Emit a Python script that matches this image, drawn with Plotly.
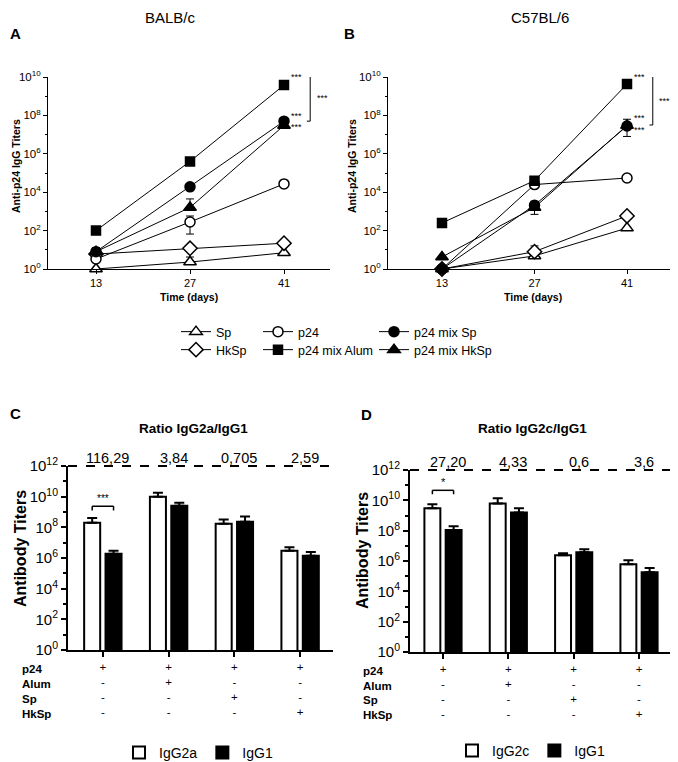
import plotly.graph_objects as go
import numpy as np

# page body has an 8px margin, so the figure is placed at (8, 8)
OFF = 8
FW, FH = 670, 754
def px(x): return (x - OFF) / FW
def py(y): return 1 - (y - OFF) / FH

FONT = "Liberation Sans, Arial, sans-serif"

# ---------------- data: line panels ----------------
days = [13, 27, 41]

# BALB/c (panel A)
A_Sp = [1.0, 2.3, 7.0]
A_HkSp = [6.0, 12.0, 22.0]
A_p24 = [3.3, 280, 2.7e4]
A_mixAlum = [100, 4.0e5, 3.8e9]
A_mixSp = [8.0, 1.9e4, 5.0e7]
A_mixHkSp = [8.0, 1.6e3, 3.0e7]
A_Sp_up = [0, 1.9, 0]
A_p24_up = [0, 295, 0]
A_p24_dn = [0, 214, 0]
A_mixSp_up = [4.6, 0, 0]
A_mixHkSp_up = [4.6, 2870, 0]

# C57BL/6 (panel B)
B_Sp = [1.0, 4.8, 135]
B_HkSp = [1.0, 8.0, 580]
B_p24 = [1.0, 2.5e4, 5.5e4]
B_mixAlum = [250, 4.0e4, 4.3e9]
B_mixSp = [1.0, 2.1e3, 2.8e7]
B_mixHkSp = [4.2, 1.6e3, 3.0e7]
B_HkSp_up = [0, 8, 0]
B_mixSp_up = [0, 1300, 3.5e7]
B_mixSp_dn = [0, 1400, 2.0e7]

# ---------------- data: bar panels ----------------
groups = ["p24", "p24 + Alum", "p24 + Sp", "p24 + HkSp"]
comp_rows = ["p24", "Alum", "Sp", "HkSp"]
comp_table = [["+", "+", "+", "+"],
              ["-", "+", "-", "-"],
              ["-", "-", "+", "-"],
              ["-", "-", "-", "+"]]

C_IgG2a = [2.0e8, 1.0e10, 1.7e8, 3.0e6]
C_IgG2a_err = [2.0e8, 8.0e9, 1.5e8, 2.0e6]
C_IgG1 = [1.9e6, 2.6e9, 2.3e8, 1.4e6]
C_IgG1_err = [1.05e6, 1.4e9, 2.7e8, 1.1e6]
C_ratios = ["116,29", "3,84", "0,705", "2,59"]

D_IgG2c = [3.0e9, 6.3e9, 2.4e6, 6.0e5]
D_IgG2c_err = [2.5e9, 7.2e9, 0.8e6, 5.0e5]
D_IgG1 = [1.1e8, 1.6e9, 3.8e6, 1.8e5]
D_IgG1_err = [8.5e7, 1.35e9, 2.2e6, 1.6e5]
D_ratios = ["27,20", "4,33", "0,6", "3,6"]

fig = go.Figure()

styles = {
    "Sp": dict(symbol="triangle-up", color="white", size=11),
    "HkSp": dict(symbol="diamond", color="white", size=11),
    "p24": dict(symbol="circle", color="white", size=10),
    "p24 mix Alum": dict(symbol="square", color="black", size=9),
    "p24 mix Sp": dict(symbol="circle", color="black", size=10),
    "p24 mix HkSp": dict(symbol="triangle-up", color="black", size=11),
}
# one legend box per entry, positioned like the reference grid (marker x, row y)
legend_pos = {"Sp": ("legend", 176, 317), "HkSp": ("legend2", 176, 335),
              "p24": ("legend3", 258, 317), "p24 mix Alum": ("legend4", 258, 335),
              "p24 mix Sp": ("legend5", 374, 317), "p24 mix HkSp": ("legend6", 374, 335)}

def add_line(name, y, up, dn, xa, ya, show):
    st = styles[name]
    err = None
    if up is not None or dn is not None:
        err = dict(type="data", symmetric=False,
                   array=up if up is not None else [0, 0, 0],
                   arrayminus=dn if dn is not None else [0, 0, 0],
                   color="black", thickness=1, width=4)
    fig.add_trace(go.Scatter(
        x=days, y=y, name=name, mode="lines+markers",
        line=dict(color="black", width=1),
        marker=dict(symbol=st["symbol"], size=st["size"], color=st["color"],
                    line=dict(color="black", width=1.5)),
        error_y=err, xaxis=xa, yaxis=ya, cliponaxis=False,
        showlegend=show, legend=legend_pos[name][0]))

order_A = [("Sp", A_Sp, A_Sp_up, None), ("HkSp", A_HkSp, None, None),
           ("p24", A_p24, A_p24_up, A_p24_dn), ("p24 mix HkSp", A_mixHkSp, A_mixHkSp_up, None),
           ("p24 mix Sp", A_mixSp, A_mixSp_up, None), ("p24 mix Alum", A_mixAlum, None, None)]
for n, y, u, d in order_A:
    add_line(n, y, u, d, "x", "y", True)
order_B = [("Sp", B_Sp, None, None), ("HkSp", B_HkSp, B_HkSp_up, None),
           ("p24", B_p24, None, None), ("p24 mix HkSp", B_mixHkSp, None, None),
           ("p24 mix Sp", B_mixSp, B_mixSp_up, B_mixSp_dn), ("p24 mix Alum", B_mixAlum, None, None)]
for n, y, u, d in order_B:
    add_line(n, y, u, d, "x2", "y2", False)

def add_bar(name, y, err, fill, xa, ya, leg):
    fig.add_trace(go.Bar(
        x=groups, y=y, name=name,
        marker=dict(color=fill, line=dict(color="black", width=2)),
        error_y=dict(type="data", symmetric=False, array=err, arrayminus=[0] * len(err),
                     color="black", thickness=2, width=5),
        xaxis=xa, yaxis=ya, legend=leg))

add_bar("IgG2a", C_IgG2a, C_IgG2a_err, "white", "x3", "y3", "legend7")
add_bar("IgG1", C_IgG1, C_IgG1_err, "black", "x3", "y3", "legend7")
add_bar("IgG2c", D_IgG2c, D_IgG2c_err, "white", "x4", "y4", "legend8")
add_bar("IgG1", D_IgG1, D_IgG1_err, "black", "x4", "y4", "legend8")

# ---------------- axes ----------------
def sup(e): return f"10<sup>{e}</sup>"

line_y_vals = [10 ** e for e in range(0, 11, 2)]
line_y_text = [sup(e) for e in range(0, 11, 2)]
line_minor = [10 ** e for e in range(1, 10, 2)]
bar_y_vals = [10 ** e for e in range(0, 13, 2)]
bar_y_text = [sup(e) for e in range(0, 13, 2)]
bar_minor = [10 ** e for e in range(1, 12, 2)]

def line_xaxis(dom, rng, anchor):
    return dict(domain=dom, range=rng, anchor=anchor, tickmode="array", tickvals=days,
                ticks="outside", ticklen=4, tickcolor="black", showline=True,
                linecolor="black", linewidth=1, showgrid=False, zeroline=False,
                tickfont=dict(size=11, color="black"))

def line_yaxis(dom, anchor):
    return dict(domain=dom, type="log", range=[0, 10], anchor=anchor, tickmode="array",
                tickvals=line_y_vals, ticktext=line_y_text, ticks="outside", ticklen=4,
                tickcolor="black", showline=True, linecolor="black", linewidth=1,
                showgrid=False, zeroline=False, tickfont=dict(size=11.5, color="black"),
                minor=dict(tickmode="array", tickvals=line_minor, ticks="outside",
                           ticklen=2, tickcolor="black", showgrid=False))

ticktext_bars = ["<br>".join(comp_table[r][i] for r in range(len(comp_rows)))
                 for i in range(len(groups))]

def bar_xaxis(dom, rng, anchor):
    return dict(domain=dom, range=rng, anchor=anchor, type="category", tickmode="array",
                tickvals=groups, ticktext=ticktext_bars, ticks="outside", ticklen=5,
                tickwidth=1.5, tickcolor="black", showline=True, linecolor="black",
                linewidth=2, showgrid=False, zeroline=False,
                tickfont=dict(size=11.5, color="black"))

def bar_yaxis(dom, anchor):
    return dict(domain=dom, type="log", range=[0, 12], anchor=anchor, tickmode="array",
                tickvals=bar_y_vals, ticktext=bar_y_text, ticks="outside", ticklen=5,
                tickwidth=1.5, tickcolor="black", showline=True, linecolor="black",
                linewidth=2, showgrid=False, zeroline=False,
                tickfont=dict(size=15, color="black"),
                minor=dict(tickmode="array", tickvals=bar_minor, ticks="outside",
                           ticklen=3, tickwidth=1.5, tickcolor="black", showgrid=False))

bargap = 0.35
layout = dict(
    width=FW, height=FH, margin=dict(l=0, r=0, t=0, b=0, autoexpand=False),
    paper_bgcolor="white", plot_bgcolor="white",
    font=dict(family=FONT, color="black"),
    barmode="group", bargap=bargap, bargroupgap=0.25,
    xaxis=line_xaxis([px(48), px(330)], [5.85, 47.85], "y"),
    yaxis=line_yaxis([py(269), py(77)], "x"),
    xaxis2=line_xaxis([px(388), px(673)], [4.83, 47.96], "y2"),
    yaxis2=line_yaxis([py(269), py(77)], "x2"),
    xaxis3=bar_xaxis([px(68), px(333)], [-0.53, 3.5], "y3"),
    yaxis3=bar_yaxis([py(650), py(466)], "x3"),
    xaxis4=bar_xaxis([px(410), px(672)], [-0.505, 3.505], "y4"),
    yaxis4=bar_yaxis([py(652), py(470)], "x4"),
)
leg_common = dict(bgcolor="rgba(0,0,0,0)", font=dict(size=12.5, color="black"),
                  tracegroupgap=0, itemclick=False, itemdoubleclick=False)
for name, (lid, lx, ly) in legend_pos.items():
    layout[lid] = dict(x=px(lx), y=py(ly), xanchor="left", yanchor="top", **leg_common)
leg_bar = dict(leg_common)
leg_bar["font"] = dict(size=14, color="black")
layout["legend7"] = dict(x=px(119), y=py(753), xanchor="left", yanchor="middle",
                         orientation="h", **leg_bar)
layout["legend8"] = dict(x=px(452), y=py(751), xanchor="left", yanchor="middle",
                         orientation="h", **leg_bar)
fig.update_layout(**layout)

# ---------------- annotations ----------------
ann = []
def txt(x, y, s, size, bold=False, angle=0, xanchor="center", yanchor="middle", **kw):
    d = dict(x=x, y=y, text=f"<b>{s}</b>" if bold else s, showarrow=False,
             font=dict(size=size, family=FONT, color="black"), textangle=angle,
             xanchor=xanchor, yanchor=yanchor)
    d.update(kw)
    if "xref" not in d:
        d["xref"] = "paper"
    if "yref" not in d:
        d["yref"] = "paper"
    ann.append(d)

txt(px(170), py(17), "BALB/c", 15)
txt(px(540), py(17), "C57BL/6", 15)
txt(px(15), py(34), "A", 15, bold=True)
txt(px(349), py(34), "B", 15, bold=True)
txt(px(15), py(413), "C", 15, bold=True)
txt(px(366), py(414), "D", 15, bold=True)

txt(px(16), py(166), "Anti-p24 IgG Titers", 10.5, bold=True, angle=-90)
txt(px(352), py(166), "Anti-p24 IgG Titers", 10.5, bold=True, angle=-90)
txt(px(189), py(297), "Time (days)", 10.5, bold=True)
txt(px(533), py(297), "Time (days)", 10.5, bold=True)

txt(px(20), py(549), "Antibody Titers", 16, bold=True, angle=-90)
txt(px(362), py(551), "Antibody Titers", 16, bold=True, angle=-90)
txt(px(193), py(428), "Ratio IgG2a/IgG1", 13.5, bold=True)
txt(px(532), py(428), "Ratio IgG2c/IgG1", 13.5, bold=True)

for g, r in zip(groups, C_ratios):
    txt(g, py(458), r, 14.5, xref="x3", xshift=5)
for g, r in zip(groups, D_ratios):
    txt(g, py(462), r, 14.5, xref="x4", xshift=5)

row_y_C = [669, 684, 699, 714]
row_y_D = [671, 686, 700, 715]
for name, yc, yd in zip(comp_rows, row_y_C, row_y_D):
    txt(px(20), py(yc), name, 11.5, bold=True, xanchor="left")
    txt(px(361), py(yd), name, 11.5, bold=True, xanchor="left")

def star(x, y, xr, yr, s="***", size=9, **kw):
    d = dict(x=x, y=y, xref=xr, yref=yr, text=s, showarrow=False,
             xanchor="left", yanchor="middle",
             font=dict(size=size, family=FONT, color="black"))
    d.update(kw)
    ann.append(d)

# significance marks next to day-41 points (log10 positions on log axes;
# anchors kept inside the axis range, fine offsets via yshift)
star(41, np.log10(A_mixAlum[2]), "x", "y", xshift=5, yshift=8)
star(41, np.log10(A_mixSp[2]) + 0.27, "x", "y", xshift=5)
star(41, np.log10(A_mixHkSp[2]) - 0.1, "x", "y", xshift=5)
star(45.6, 8.9, "x", "y")
star(41, np.log10(B_mixAlum[2]), "x2", "y2", xshift=5, yshift=7)
star(41, np.log10(B_mixSp[2]) + 0.4, "x2", "y2", xshift=5)
star(41, np.log10(B_mixHkSp[2]) - 0.25, "x2", "y2", xshift=5)
star(45.6, 8.75, "x2", "y2")

# significance for bars
off = (1 - bargap) / 4
star(0, 9.4, "x3", "y3", size=10, xanchor="center", yanchor="bottom")
star(0, 10.68, "x4", "y4", s="*", size=11, xanchor="center", yanchor="bottom")
fig.update_layout(annotations=ann)

# ---------------- shapes (log axes take data values) ----------------
shapes = []
def seg(xr, yr, x0, y0, x1, y1, w=1, dash=None):
    ln = dict(color="black", width=w)
    if dash:
        ln["dash"] = dash
    shapes.append(dict(type="line", xref=xr, yref=yr, x0=x0, y0=y0, x1=x1, y1=y1, line=ln))

def bracket_v(xr, yr, x, xl, top, bot):
    seg(xr, yr, x, 10 ** top, x, 10 ** bot)
    seg(xr, yr, xl, 10 ** top, x, 10 ** top)
    seg(xr, yr, xl, 10 ** bot, x, 10 ** bot)

def bracket_h(xr, yr, x0, x1, top, bot):
    seg(xr, yr, x0, 10 ** top, x1, 10 ** top, w=1.5)
    seg(xr, yr, x0, 10 ** top, x0, 10 ** bot, w=1.5)
    seg(xr, yr, x1, 10 ** top, x1, 10 ** bot, w=1.5)

bracket_v("x", "y", 44.9, 44.4, 10.05, 7.7)
bracket_v("x2", "y2", 44.9, 44.4, 10.05, 7.5)
bracket_h("x3", "y3", -off, off, 9.375, 9.1)
bracket_h("x4", "y4", -off, off, 10.66, 10.4)
# dashed reference lines at 10^12
seg("x3 domain", "y3 domain", 0, 1, 1, 1, w=2, dash="dash")
seg("x4 domain", "y4 domain", 0, 1, 1, 1, w=2, dash="dash")
fig.update_layout(shapes=shapes)

fig.write_html("out.html")
